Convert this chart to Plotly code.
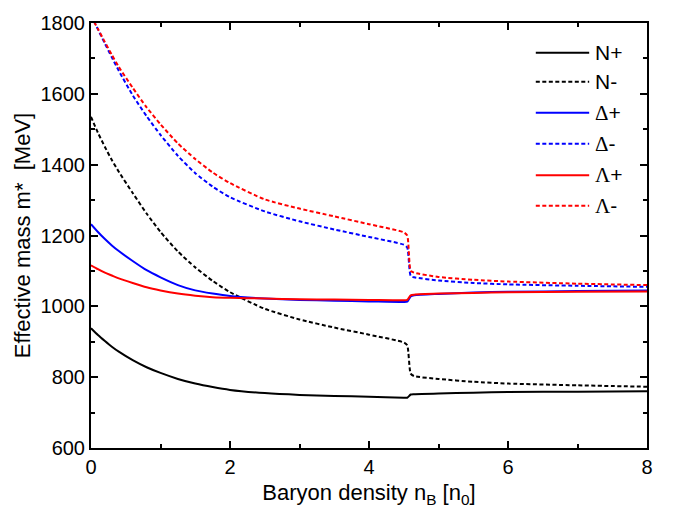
import plotly.graph_objects as go

# Baryon density grid in units of saturation density n0
density = [0, 0.1, 0.2, 0.3, 0.4, 0.6, 0.8, 1.0, 1.25, 1.5, 1.75, 2.0, 2.5, 3.0,
           3.5, 4.0, 4.5, 4.55, 4.6, 4.65, 5.0, 5.5, 6.0, 7.0, 8.0]

# Effective masses m* [MeV] for each baryon and parity partner
n_plus = [938, 919, 902, 886, 872, 848, 828, 812, 795, 782, 772, 764, 755, 750,
          747, 745, 742, 742, 751, 752, 754, 756, 758, 759, 760]
n_minus = [1535, 1490, 1450, 1413, 1380, 1320, 1262, 1210, 1155, 1110, 1072, 1040, 993, 963,
           940, 920, 898, 890, 810, 803, 795, 787, 782, 777, 773]
delta_plus = [1232, 1210, 1190, 1172, 1156, 1128, 1102, 1082, 1060, 1045, 1036, 1029, 1022, 1018,
              1016, 1014, 1012, 1013, 1028, 1031, 1035, 1039, 1041, 1043, 1045]
delta_minus = [1822, 1782, 1742, 1703, 1665, 1596, 1537, 1484, 1425, 1376, 1338, 1308, 1268, 1240,
               1217, 1196, 1174, 1166, 1086, 1082, 1073, 1066, 1062, 1058, 1055]
lambda_plus = [1116, 1105, 1095, 1087, 1079, 1066, 1054, 1045, 1036, 1030, 1026, 1024, 1022, 1020,
               1019, 1018, 1017, 1018, 1031, 1033, 1036, 1038, 1040, 1041, 1042]
lambda_minus = [1820, 1783, 1746, 1710, 1676, 1617, 1562, 1514, 1460, 1416, 1378, 1348, 1302, 1276,
                1254, 1232, 1209, 1200, 1100, 1095, 1083, 1075, 1070, 1064, 1060]

series_names = ["N+", "N-", "Δ+", "Δ-", "Λ+", "Λ-"]
series_values = [n_plus, n_minus, delta_plus, delta_minus, lambda_plus, lambda_minus]
series_colors = ["#000000", "#000000", "#0000FF", "#0000FF", "#FF0000", "#FF0000"]
dotted = "4px,2.5px"
series_dash = ["solid", dotted, "solid", dotted, "solid", dotted]

x_ticks = [0, 2, 4, 6, 8]
y_ticks = [600, 800, 1000, 1200, 1400, 1600, 1800]

FONT = "Liberation Sans, Arial, sans-serif"
GREEK_FONT = "Liberation Serif, Times New Roman, serif"

fig = go.Figure()
for name, vals, col, dash in zip(series_names, series_values, series_colors, series_dash):
    fig.add_trace(go.Scatter(x=density, y=vals, mode="lines", name=name,
                             line=dict(color=col, width=2, dash=dash,
                                       shape="spline", smoothing=0.6),
                             showlegend=False))

# Legend drawn as line samples plus labels in the upper right of the plot area
leg_x0, leg_x1, leg_text_x = 0.800, 0.896, 0.902
leg_y = [0.930, 0.862, 0.789, 0.716, 0.642, 0.570]
for name, col, dash, ly in zip(series_names, series_colors, series_dash, leg_y):
    fig.add_shape(type="line", xref="paper", yref="paper",
                  x0=leg_x0, x1=leg_x1, y0=ly, y1=ly,
                  line=dict(color=col, width=2, dash=dash))
    label = name
    if name[0] in "ΔΛ":
        label = f'<span style="font-family:{GREEK_FONT}">{name[0]}</span>{name[1:]}'
    fig.add_annotation(x=leg_text_x, y=ly, xref="paper", yref="paper",
                       text=label, showarrow=False, xanchor="left", yanchor="middle",
                       font=dict(size=21, color="#000000", family=FONT))

axis_common = dict(
    showline=True, linecolor="#000000", linewidth=2, mirror="ticks",
    ticks="inside", ticklen=7, tickwidth=1.5, tickcolor="#000000",
    showgrid=False, zeroline=False,
    tickfont=dict(size=20, color="#000000", family=FONT),
)

fig.update_xaxes(
    range=[0, 8], tickvals=x_ticks, ticktext=[str(v) for v in x_ticks],
    minor=dict(dtick=1, ticks="inside", ticklen=4, tickwidth=1.5, tickcolor="#000000", showgrid=False),
    title=dict(text="Baryon density n<sub>B</sub> [n<sub>0</sub>]",
               font=dict(size=22, color="#000000", family=FONT), standoff=8),
    **axis_common,
)
fig.update_yaxes(
    range=[600, 1800], tickvals=y_ticks, ticktext=[str(v) for v in y_ticks],
    minor=dict(dtick=100, ticks="inside", ticklen=4, tickwidth=1.5, tickcolor="#000000", showgrid=False),
    title=dict(text="Effective mass m*\u00a0\u00a0[MeV]",
               font=dict(size=22, color="#000000", family=FONT), standoff=4),
    **axis_common,
)

fig.update_layout(
    width=676, height=513,
    margin=dict(l=91, r=29, t=18, b=65),
    paper_bgcolor="#FFFFFF", plot_bgcolor="#FFFFFF",
    font=dict(family=FONT, color="#000000"),
)

fig.write_html("out.html")
